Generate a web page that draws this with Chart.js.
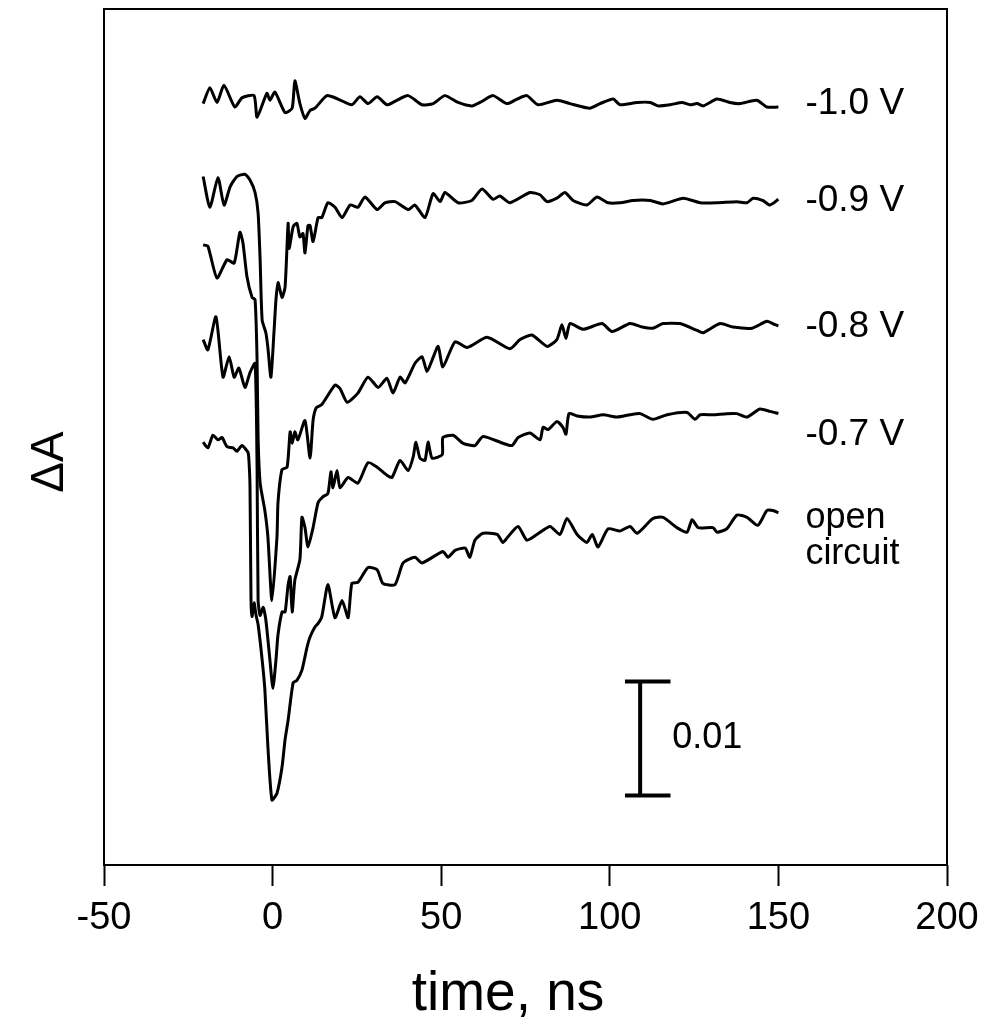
<!DOCTYPE html>
<html>
<head>
<meta charset="utf-8">
<script src="https://cdn.jsdelivr.net/npm/chart.js@4.4.1/dist/chart.umd.min.js"></script>
<style>
  html, body { margin: 0; padding: 0; background: #fff; }
  #wrap { width: 985px; height: 1030px; }
</style>
</head>
<body>
<div id="wrap"><canvas id="myChartTransitorios" width="985" height="1030"></canvas></div>
<script>
// tiempos (ns) y ΔA (en unidades de 1e-3, con el desplazamiento vertical de cada curva)
const t10 = [-20.6, -18.6, -16.5, -14.4, -11.2, -9.1, -5.5, -4.6, -1.7, -0.8, 0.7, 3.7, 5.8, 6.6, 8.1, 9.6, 11.1, 12.6, 16.1, 19.4, 23.5, 25.9, 28.3, 31.0, 33.9, 36.3, 40.2, 44.3, 47.6, 51.1, 55.0, 59.1, 62.1, 65.4, 69.5, 72.5, 75.4, 78.7, 84.3, 88.2, 94.1, 97.1, 101.0, 103.0, 108.1, 112.0, 114.3, 117.9, 121.4, 123.8, 125.9, 127.7, 131.8, 135.6, 138.6, 143.6, 146.6, 150.0];
const dA10 = [66.8, 68.2, 66.9, 68.4, 66.5, 67.3, 67.5, 65.6, 67.7, 67.1, 67.8, 66.0, 66.4, 68.8, 66.8, 65.5, 66.2, 66.4, 67.5, 67.2, 66.7, 67.4, 66.8, 67.4, 66.7, 67.0, 67.5, 66.7, 66.8, 67.5, 66.9, 66.6, 67.0, 67.5, 66.8, 67.2, 67.5, 66.7, 67.1, 66.8, 66.4, 66.8, 67.2, 66.7, 66.9, 66.9, 66.6, 66.7, 66.9, 66.7, 66.8, 66.6, 67.2, 66.9, 66.8, 67.1, 66.5, 66.5];

const t09 = [-20.6, -18.6, -16.2, -14.4, -12.6, -10.6, -8.2, -6.7, -5.2, -4.3, -3.7, -3.1, -2.0, -1.4, -0.5, 0.4, 1.0, 1.6, 2.8, 3.7, 4.6, 4.9, 6.1, 7.2, 8.1, 9.0, 9.6, 10.5, 11.1, 12.0, 13.5, 14.6, 16.4, 18.5, 20.6, 23.0, 25.3, 27.4, 31.0, 33.3, 36.3, 40.2, 42.2, 45.2, 47.6, 49.7, 51.1, 55.0, 59.1, 62.1, 65.4, 67.4, 70.4, 76.3, 79.3, 81.4, 84.3, 86.7, 89.1, 93.2, 96.2, 99.5, 103.0, 106.9, 112.0, 115.8, 121.8, 126.8, 131.8, 137.7, 140.7, 142.5, 145.4, 147.5, 150.0];
const dA09 = [60.4, 57.7, 60.3, 57.9, 59.5, 60.4, 60.6, 60.1, 59.0, 57.2, 53.1, 47.8, 46.7, 45.4, 42.8, 46.7, 49.6, 51.1, 49.8, 50.7, 56.3, 54.1, 56.0, 56.3, 55.1, 55.4, 53.7, 56.1, 56.1, 54.7, 56.8, 56.8, 58.1, 57.7, 56.8, 57.9, 57.7, 58.6, 57.5, 58.1, 58.2, 57.5, 57.9, 56.8, 58.9, 58.2, 59.0, 58.1, 58.3, 59.3, 58.4, 58.7, 58.1, 59.0, 58.8, 58.2, 58.5, 59.0, 58.3, 57.9, 58.6, 58.1, 58.1, 58.3, 58.3, 58.0, 58.5, 58.1, 58.1, 58.2, 58.1, 58.5, 58.3, 57.9, 58.4];

const t08 = [-20.6, -19.2, -16.5, -13.5, -11.4, -9.7, -8.8, -7.6, -6.1, -5.2, -4.6, -4.3, -3.7, -2.3, -1.4, -0.2, 1.3, 1.6, 2.8, 4.3, 5.2, 5.8, 6.6, 7.5, 9.6, 11.1, 12.0, 12.9, 14.6, 18.5, 20.0, 22.1, 25.3, 28.3, 31.3, 33.9, 35.7, 37.8, 39.3, 42.2, 44.3, 45.8, 47.3, 49.1, 50.5, 54.1, 57.7, 63.6, 70.4, 73.4, 76.9, 81.4, 84.3, 85.8, 87.0, 88.2, 92.1, 97.7, 100.7, 106.0, 109.6, 112.8, 115.8, 120.8, 125.9, 127.7, 132.7, 136.5, 142.2, 146.6, 149.0, 150.0];
const dA08 = [54.4, 54.3, 51.5, 53.1, 52.8, 55.5, 54.6, 51.6, 49.8, 49.6, 44.3, 37.5, 33.5, 31.1, 28.8, 23.2, 28.8, 31.8, 34.7, 34.9, 38.0, 37.0, 38.0, 37.3, 39.0, 35.7, 39.0, 40.1, 40.4, 42.1, 41.8, 40.6, 41.4, 42.8, 41.9, 42.7, 41.4, 42.8, 42.3, 44.0, 44.6, 43.3, 44.3, 45.5, 43.7, 45.9, 45.4, 46.3, 45.3, 46.1, 46.5, 45.5, 46.1, 47.4, 46.2, 47.5, 47.0, 47.5, 46.8, 47.5, 47.2, 47.1, 47.5, 47.5, 46.9, 46.7, 47.5, 47.2, 47.1, 47.7, 47.4, 47.3];

const t07 = [-20.6, -19.2, -16.8, -14.7, -12.9, -11.4, -10.0, -8.2, -6.7, -5.2, -4.6, -4.3, -3.7, -2.8, -2.0, -0.8, 0.1, 1.0, 1.6, 2.8, 3.7, 4.6, 5.2, 5.8, 6.6, 8.1, 8.7, 9.6, 10.5, 12.0, 13.5, 14.9, 16.4, 17.3, 17.9, 19.1, 20.0, 22.4, 25.3, 28.3, 31.0, 33.9, 35.4, 37.8, 40.2, 41.7, 42.5, 43.7, 45.2, 46.1, 47.3, 50.3, 50.5, 53.5, 56.5, 60.0, 62.4, 68.3, 71.0, 72.8, 76.3, 79.3, 80.2, 81.7, 84.3, 86.1, 87.0, 87.9, 90.3, 94.1, 98.0, 102.2, 106.0, 109.0, 112.8, 117.0, 122.9, 125.3, 126.8, 130.6, 134.7, 137.7, 140.7, 144.5, 147.5, 150.0];
const dA07 = [46.1, 45.2, 48.1, 42.8, 44.6, 42.8, 43.6, 41.9, 43.2, 44.0, 34.7, 23.2, 21.9, 22.6, 21.5, 18.0, 15.5, 18.0, 20.2, 22.2, 22.2, 24.6, 25.3, 22.2, 25.0, 26.8, 30.5, 29.6, 27.9, 29.6, 31.8, 32.3, 32.6, 34.5, 33.1, 34.6, 33.1, 34.0, 33.5, 35.3, 34.9, 34.2, 34.0, 35.5, 34.6, 35.8, 37.1, 35.7, 35.5, 37.1, 35.7, 36.0, 37.5, 37.7, 37.0, 36.8, 37.6, 37.0, 36.8, 37.5, 37.9, 37.3, 38.4, 38.2, 38.9, 38.4, 37.8, 39.6, 39.4, 39.3, 39.5, 39.3, 39.5, 39.6, 39.1, 39.5, 39.7, 39.1, 39.5, 39.5, 39.6, 39.6, 39.3, 40.0, 39.8, 39.6];

const tOC = [-20.6, -19.2, -17.7, -16.2, -15.0, -13.5, -11.7, -10.6, -9.1, -7.3, -7.0, -6.7, -6.4, -6.1, -5.5, -4.9, -4.3, -3.1, -2.3, -1.4, -0.2, 1.3, 2.8, 3.7, 4.6, 6.1, 7.2, 8.7, 10.2, 11.1, 12.6, 13.5, 14.6, 16.4, 18.5, 20.6, 22.4, 23.5, 25.3, 28.3, 31.0, 32.7, 36.3, 38.7, 42.2, 44.3, 50.5, 52.0, 54.1, 57.1, 58.5, 60.0, 62.4, 66.6, 68.3, 69.8, 72.8, 75.4, 78.4, 82.3, 85.2, 87.3, 90.3, 93.2, 94.8, 96.5, 99.5, 103.0, 106.0, 108.1, 112.8, 115.8, 119.9, 122.9, 124.4, 126.2, 130.6, 131.8, 134.7, 137.7, 140.7, 143.9, 146.6, 148.4, 150.0];
const dAOC = [37.1, 36.6, 37.7, 37.3, 37.5, 36.7, 36.6, 36.3, 36.8, 36.2, 35.4, 33.2, 23.2, 21.8, 23.0, 21.9, 21.1, 18.0, 15.4, 10.4, 5.7, 6.3, 8.6, 11.0, 12.7, 16.0, 16.2, 17.1, 19.1, 20.0, 20.9, 21.2, 21.8, 24.6, 21.7, 23.2, 21.7, 24.7, 24.8, 26.1, 25.9, 24.7, 24.6, 26.5, 27.0, 26.5, 27.5, 27.0, 27.6, 27.8, 27.0, 28.5, 29.1, 29.0, 28.3, 28.8, 29.7, 28.5, 29.0, 29.7, 29.0, 30.4, 29.0, 28.3, 29.0, 27.9, 29.5, 29.3, 29.7, 29.1, 30.4, 30.5, 29.6, 29.2, 30.3, 29.6, 29.6, 29.2, 29.5, 30.7, 30.5, 29.8, 31.1, 31.1, 30.9];

// etiquetas de cada curva (nivel en las mismas unidades)
const etiquetas = ['-1.0 V', '-0.9 V', '-0.8 V', '-0.7 V', 'open', 'circuit'];
const nivelesEtiqueta = [66.8, 58.3, 47.2, 37.7, 30.4, 27.3];
const tiempoEtiqueta = 158;

// barra de escala: 10 unidades = 0.01 de ΔA
const barraTiempo = 109;
const barraBase = 6.1;
const barraTamano = 10;
const barraTexto = '0.01';

const xTicks = [-50, 0, 50, 100, 150, 200];

const FONT = '"Liberation Sans", Arial, Helvetica, sans-serif';

function serie(ts, vals) {
    return ts.map((t, i) => ({ x: t, y: vals[i] }));
}

function trazo(data) {
    return {
        data: data,
        borderColor: '#000',
        borderWidth: 3,
        borderJoinStyle: 'round',
        pointRadius: 0,
        tension: 0.2,
        fill: false
    };
}

const barra = [
    { x: barraTiempo - 4.5, y: barraBase + barraTamano },
    { x: barraTiempo + 9, y: barraBase + barraTamano },
    { x: NaN, y: NaN },
    { x: barraTiempo, y: barraBase + barraTamano },
    { x: barraTiempo, y: barraBase },
    { x: NaN, y: NaN },
    { x: barraTiempo - 4.5, y: barraBase },
    { x: barraTiempo + 9, y: barraBase }
];

// Marco y textos que Chart.js no dibuja solo
const textosPlugin = {
    id: 'textos',
    afterDraw(chart) {
        const { ctx, chartArea, scales } = chart;
        ctx.save();
        ctx.strokeStyle = '#000';
        ctx.lineWidth = 2;
        ctx.strokeRect(chartArea.left, chartArea.top, chartArea.right - chartArea.left, chartArea.bottom - chartArea.top);

        ctx.fillStyle = '#000';
        ctx.textBaseline = 'middle';
        ctx.textAlign = 'left';
        etiquetas.forEach((txt, i) => {
            ctx.font = (i >= 4 ? '36px ' : '37px ') + FONT;
            ctx.fillText(txt, scales.x.getPixelForValue(tiempoEtiqueta), scales.y.getPixelForValue(nivelesEtiqueta[i]));
        });

        ctx.font = '36px ' + FONT;
        ctx.fillText(barraTexto, scales.x.getPixelForValue(barraTiempo + 9.5), scales.y.getPixelForValue(barraBase + barraTamano / 2));

        ctx.textAlign = 'center';
        ctx.font = '55px ' + FONT;
        ctx.fillText('time, ns', 508, 995);

        ctx.translate(50, 462);
        ctx.rotate(-Math.PI / 2);
        ctx.font = '46px ' + FONT;
        ctx.fillText('ΔA', 0, 0);
        ctx.restore();
    }
};

window.initializeChartTransitorios = () => {
    const ctx = document.getElementById('myChartTransitorios').getContext('2d');

    const series = [serie(t10, dA10), serie(t09, dA09), serie(t08, dA08), serie(t07, dA07), serie(tOC, dAOC)];
    const datasets = series.map(s => trazo(s));
    datasets.push({
        data: barra,
        borderColor: '#000',
        borderWidth: 4,
        pointRadius: 0,
        spanGaps: false,
        fill: false
    });

    new Chart(ctx, {
        type: 'line',
        data: { datasets: datasets },
        options: {
            responsive: false,
            animation: false,
            events: [],
            layout: { padding: { left: 0, right: 38, top: 9, bottom: 0 } },
            plugins: {
                legend: { display: false },
                tooltip: { enabled: false }
            },
            scales: {
                x: {
                    type: 'linear',
                    min: -50,
                    max: 200,
                    afterBuildTicks: (axis) => { axis.ticks = xTicks.map(v => ({ value: v })); },
                    afterFit: (axis) => {
                        axis.height = 165;
                        axis.paddingLeft = 0;
                        axis.paddingRight = 0;
                    },
                    border: { display: false },
                    grid: {
                        display: true,
                        drawOnChartArea: false,
                        drawTicks: true,
                        tickLength: 21,
                        tickWidth: 2,
                        tickColor: '#000'
                    },
                    ticks: {
                        color: '#000',
                        padding: 10,
                        maxRotation: 0,
                        font: { family: FONT, size: 38 }
                    }
                },
                y: {
                    type: 'linear',
                    min: 0,
                    max: 75.1,
                    afterFit: (axis) => { axis.width = 104; },
                    border: { display: false },
                    grid: { display: false },
                    ticks: { display: false }
                }
            }
        },
        plugins: [textosPlugin]
    });
};

initializeChartTransitorios();
</script>
</body>
</html>
